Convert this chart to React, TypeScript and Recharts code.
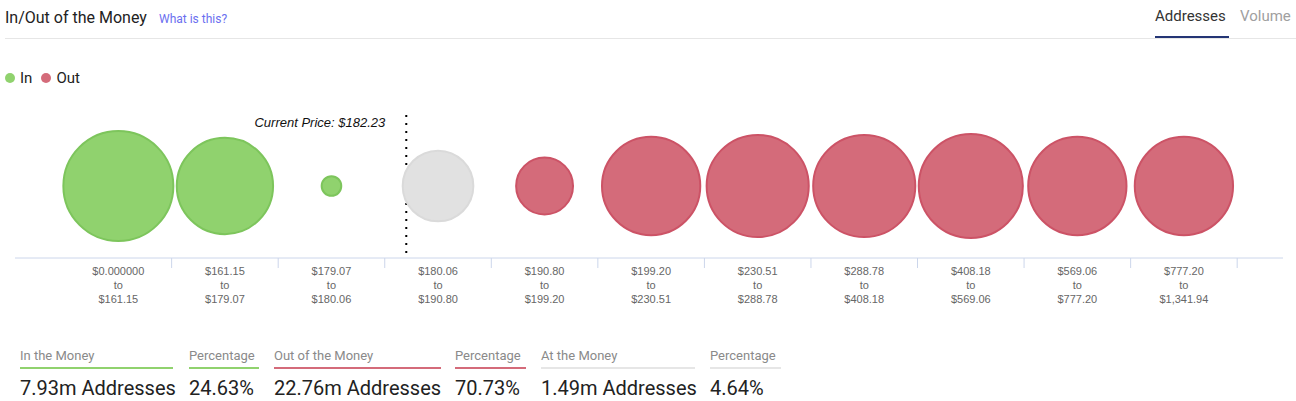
import { ScatterChart, Scatter, XAxis, YAxis, ZAxis, ReferenceLine } from 'recharts';

// price buckets (from / to)
const rangeFrom = ['$0.000000', '$161.15', '$179.07', '$180.06', '$190.80', '$199.20', '$230.51', '$288.78', '$408.18', '$569.06', '$777.20'];
const rangeTo = ['$161.15', '$179.07', '$180.06', '$190.80', '$199.20', '$230.51', '$288.78', '$408.18', '$569.06', '$777.20', '$1,341.94'];
// addresses per bucket, millions
const addresses = [4.41, 3.38, 0.14, 1.82, 1.18, 3.52, 3.8, 3.8, 3.95, 3.52, 3.52];
const status = ['in', 'in', 'in', 'at', 'out', 'out', 'out', 'out', 'out', 'out', 'out'];

const currentPrice = 182.23;
const atLow = 180.06;
const atHigh = 190.8;

const statLabels = ['In the Money', 'Percentage', 'Out of the Money', 'Percentage', 'At the Money', 'Percentage'];
const statValues = ['7.93m Addresses', '24.63%', '22.76m Addresses', '70.73%', '1.49m Addresses', '4.64%'];

const COLORS = {
  in: { fill: '#90d26e', stroke: '#7dc55c' },
  out: { fill: '#d46b7a', stroke: '#cc5366' },
  at: { fill: '#e1e1e1', stroke: '#dadada' },
};
const statColors = [COLORS.in.fill, COLORS.in.fill, COLORS.out.fill, COLORS.out.fill, '#e6e6e6', '#e6e6e6'];
const statLeft = [20, 189, 274, 455, 541, 710];
const statWidth = [153, 70, 167, 71, 154, 71];

const X_DOMAIN: [number, number] = [-0.97, 10.93];
const PLOT_LEFT = 15;
const PLOT_RIGHT = 1283;
const BAND_PX = (PLOT_RIGHT - PLOT_LEFT) / (X_DOMAIN[1] - X_DOMAIN[0]);

const points = addresses.map((z, i) => ({ x: i, y: 1, z, status: status[i] }));
const seriesData = (s: string) => points.filter(p => p.status === s);

// where the current price falls inside the "at the money" bucket
const atIndex = status.indexOf('at');
const currentX = atIndex - 0.5 + (currentPrice - atLow) / (atHigh - atLow);

const sans = 'Roboto, "Noto Sans", sans-serif';

function BucketTick(props: any) {
  const { x, y, payload } = props;
  const i = payload.value as number;
  const half = BAND_PX / 2;
  return (
    <g>
      <line x1={x + half} y1={y} x2={x + half} y2={y + 10} stroke="#ccd6eb" strokeWidth={1} />
      <text x={x} y={y} textAnchor="middle" fill="#666" fontSize={11} fontFamily='"Liberation Sans", Arial, sans-serif'>
        <tspan x={x} dy={17}>{rangeFrom[i]}</tspan>
        <tspan x={x} dy={14}>to</tspan>
        <tspan x={x} dy={14}>{rangeTo[i]}</tspan>
      </text>
    </g>
  );
}

function PriceLine(p: any) {
  const top = Math.min(p.y1, p.y2);
  const bottom = Math.max(p.y1, p.y2);
  const x = p.x1;
  return (
    <g>
      <line x1={x} y1={top + 1} x2={x} y2={bottom - 4} stroke="#000" strokeWidth={2} strokeDasharray="2 6" />
      <text
        x={x - 21}
        y={top + 13}
        textAnchor="end"
        fontSize={13}
        fontStyle="italic"
        fill="#111"
        fontFamily='"Liberation Sans", Arial, sans-serif'
      >
        {`Current Price: $${currentPrice.toFixed(2)}`}
      </text>
    </g>
  );
}

export default function App() {
  const maxZ = Math.max(...addresses);
  return (
    <div style={{ position: 'absolute', left: 0, top: 0, width: 1296, height: 401, background: '#fff', fontFamily: sans, overflow: 'hidden' }}>
      <style>{'body{margin:0}'}</style>

      {/* header */}
      <div style={{ position: 'absolute', left: 5, top: 8, fontSize: 16, color: '#222' }}>In/Out of the Money</div>
      <div style={{ position: 'absolute', left: 159, top: 12, fontSize: 12, color: '#6b6ff0' }}>What is this?</div>
      <div style={{ position: 'absolute', left: 1155, top: 7, fontSize: 15, color: '#333' }}>Addresses</div>
      <div style={{ position: 'absolute', left: 1240, top: 7, fontSize: 15, color: '#a0a0a0' }}>Volume</div>
      <div style={{ position: 'absolute', left: 5, right: 0, top: 38, height: 1, background: '#e6e6e6' }} />
      <div style={{ position: 'absolute', left: 1155, width: 74, top: 36, height: 2, background: '#243575' }} />

      {/* legend */}
      <div style={{ position: 'absolute', left: 5, top: 69, display: 'flex', alignItems: 'center', fontSize: 15, color: '#222' }}>
        <span style={{ width: 10, height: 10, borderRadius: 5, background: COLORS.in.fill, marginRight: 5 }} />
        <span style={{ marginRight: 9 }}>In</span>
        <span style={{ width: 10, height: 10, borderRadius: 5, background: COLORS.out.fill, marginRight: 5 }} />
        <span>Out</span>
      </div>

      <div style={{ position: 'absolute', left: 0, top: 0 }}>
        <ScatterChart width={1296} height={320} margin={{ top: 114, right: 1296 - PLOT_RIGHT, bottom: 12, left: PLOT_LEFT }}>
          <XAxis
            type="number"
            dataKey="x"
            domain={X_DOMAIN}
            ticks={addresses.map((_, i) => i)}
            interval={0}
            height={50}
            tickSize={0}
            tickMargin={0}
            tickLine={false}
            axisLine={{ stroke: '#ccd6eb' }}
            tick={<BucketTick />}
          />
          <YAxis type="number" dataKey="y" domain={[0, 2]} hide width={0} />
          <ZAxis type="number" dataKey="z" domain={[0, maxZ]} range={[0, Math.PI * 55 * 55]} />
          <Scatter data={seriesData('in')} fill={COLORS.in.fill} stroke={COLORS.in.stroke} strokeWidth={2} isAnimationActive={false} />
          <Scatter data={seriesData('at')} fill={COLORS.at.fill} stroke={COLORS.at.stroke} strokeWidth={2} isAnimationActive={false} />
          <Scatter data={seriesData('out')} fill={COLORS.out.fill} stroke={COLORS.out.stroke} strokeWidth={2} isAnimationActive={false} />
          <ReferenceLine x={currentX} shape={(p: any) => <PriceLine {...p} />} />
        </ScatterChart>
      </div>

      {/* summary stats */}
      {statLabels.map((label, i) => (
        <div key={i} style={{ position: 'absolute', left: statLeft[i], top: 348, width: statWidth[i] }}>
          <div style={{ fontSize: 13, color: '#8a8a8a', lineHeight: '16px' }}>{label}</div>
          <div style={{ height: 2, background: statColors[i], marginTop: 3 }} />
          <div style={{ fontSize: 20, color: '#222', marginTop: 7, lineHeight: '24px', whiteSpace: 'nowrap' }}>{statValues[i]}</div>
        </div>
      ))}
    </div>
  );
}
